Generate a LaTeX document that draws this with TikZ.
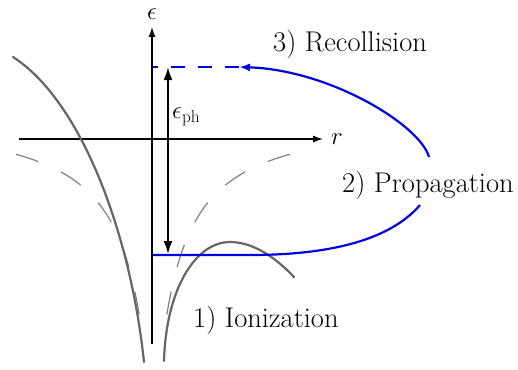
\documentclass[tikz,border=0pt]{standalone}
\usetikzlibrary{arrows.meta}
\begin{document}
\begin{tikzpicture}[x=1pt,y=-1pt,
  axis/.style={line width=1.3pt,-{Latex[length=10pt,width=7pt]}},
  pot/.style={line width=2.2pt,color=black!60,line cap=round},
  coul/.style={line width=1.2pt,color=black!50,dash pattern=on 23.5pt off 25pt},
  traj/.style={line width=2.2pt,color=blue!90!black},
  lbl/.style={font=\fontsize{28.5}{34}\selectfont,inner sep=0pt},
  mlbl/.style={font=\fontsize{27}{30}\selectfont,inner sep=0pt}]
\useasboundingbox (0,0) rectangle (518,369);
% axes
\coordinate (ybot) at (152,344);
\coordinate (ytop) at (152,27);
\coordinate (xl) at (19,139);
\coordinate (xr) at (323,139);
\draw[axis] (ybot) -- (ytop);
\draw[axis] (xl) -- (xr);
\node[mlbl] (eps) at (152,14) {$\epsilon$};
\node[mlbl,anchor=west] (rl) at (331,139) {$r$};
% Coulomb potential (dashed)
\draw[coul] plot[domain=16:140,samples=120] (\x,{110.2+6920/(153-\x+20)});
\draw[coul] plot[domain=290:166,samples=120] (\x,{110.2+6920/(\x-153+20)});
% tilted potential
\coordinate (pl1) at (13,57);
\coordinate (pl2) at (144,362);
\draw[pot] (pl1) .. controls (80,100) and (130,230) .. (pl2);
\coordinate (pr1) at (164,361);
\coordinate (pr2) at (230,242);
\coordinate (pr3) at (294,277);
\draw[pot] (pr1) .. controls (166,290) and (195,242) .. (pr2)
  .. controls (255,242) and (278,260) .. (pr3);
% trajectory
\coordinate (t1) at (429,157);
\coordinate (t2) at (239,67);
\coordinate (t3) at (153,67);
\coordinate (b1) at (153,255);
\coordinate (b2) at (250,255);
\coordinate (b3) at (420,205);
\draw[traj,-{Latex[length=11pt,width=8pt]}] (t1) .. controls (420,125) and (330,70) .. (t2);
\draw[traj,dash pattern=on 14pt off 13pt] (t2) -- (t3);
\draw[traj] (b1) -- (b2) .. controls (330,255) and (390,240) .. (b3);
% photon energy
\coordinate (pb) at (168,254);
\coordinate (pt) at (168,67);
\draw[line width=2pt,{Latex[length=13pt,width=9pt]}-{Latex[length=13pt,width=9pt]}] (pb) -- (pt);
\node[mlbl,anchor=west] (eph) at (172,117) {$\epsilon_{\mathrm{ph}}$};
% labels
\node[lbl,anchor=base west] (l3) at (273,52) {3) Recollision};
\node[lbl,anchor=base west] (l2) at (342,192) {2) Propagation};
\node[lbl,anchor=base west] (l1) at (193,327) {1) Ionization};
\end{tikzpicture}
\end{document}
